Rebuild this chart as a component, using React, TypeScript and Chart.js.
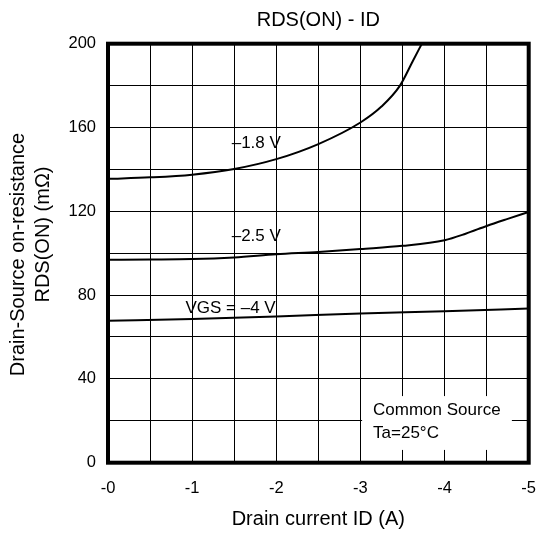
import { useEffect, useRef } from 'react';
import { Chart, registerables } from 'chart.js';

Chart.register(...registerables);

const FONT = "'Liberation Sans', Arial, Helvetica, sans-serif";

// tick labels
const xTicks = [0, -1, -2, -3, -4, -5];
const yTicks = [0, 40, 80, 120, 160, 200];

// VGS = -1.8 V
const id18 = [0, -0.5, -1, -1.5, -2, -2.5, -3, -3.25, -3.47, -3.62, -3.73];
const rds18 = [135.5, 136.2, 137.5, 140.2, 144.9, 152.1, 162.4, 170.0, 180.0, 191.5, 200];

// VGS = -2.5 V
const id25 = [0, -0.5, -1, -1.5, -2, -2.5, -3, -3.5, -4, -4.25, -4.5, -4.75, -5];
const rds25 = [96.9, 97.0, 97.2, 98.0, 99.5, 100.6, 102.0, 103.5, 106.2, 109.3, 113.0, 116.4, 119.7];

// VGS = -4 V
const id40 = [0, -1, -2, -3, -4, -5];
const rds40 = [67.8, 68.6, 69.8, 71.2, 72.3, 73.6];

// curve labels (data coordinates)
const curveLabels = ['\u20131.8 V', '\u20132.5 V', 'VGS = \u20134 V'];
const curveLabelX = [-1.47, -1.47, -0.92];
const curveLabelY = [152.5, 108, 73.7];

// note box
const noteLines = ['Common Source', 'Ta=25\u00B0C'];
const noteX = -3.15;
const noteY = [25.2, 14.0];
const noteBoxX = [-3.02, -4.8];
const noteBoxY = [31.8, 6.1];

const yTitleLines = ['Drain-Source on-resistance', 'RDS(ON) (m\u03A9)'];

const overlay = {
  id: 'overlay',
  beforeDatasetsDraw(chart: any) {
    const { ctx, scales } = chart;
    const x = scales.x;
    const y = scales.y;
    ctx.save();
    const bx0 = x.getPixelForValue(noteBoxX[0]);
    const bx1 = x.getPixelForValue(noteBoxX[1]);
    const by0 = y.getPixelForValue(noteBoxY[0]);
    const by1 = y.getPixelForValue(noteBoxY[1]);
    ctx.fillStyle = '#ffffff';
    ctx.fillRect(Math.min(bx0, bx1), Math.min(by0, by1), Math.abs(bx1 - bx0), Math.abs(by1 - by0));
    ctx.fillStyle = '#000000';
    ctx.font = `17px ${FONT}`;
    ctx.textAlign = 'left';
    ctx.textBaseline = 'middle';
    noteLines.forEach((t, i) => {
      ctx.fillText(t, x.getPixelForValue(noteX), y.getPixelForValue(noteY[i]));
    });
    curveLabels.forEach((t, i) => {
      ctx.fillText(t, x.getPixelForValue(curveLabelX[i]), y.getPixelForValue(curveLabelY[i]));
    });
    ctx.restore();
  },
  afterDraw(chart: any) {
    const { ctx, chartArea } = chart;
    ctx.save();
    ctx.strokeStyle = '#000000';
    ctx.lineWidth = 4;
    ctx.strokeRect(chartArea.left, chartArea.top, chartArea.right - chartArea.left, chartArea.bottom - chartArea.top);
    // y-axis title
    ctx.fillStyle = '#000000';
    ctx.font = `20px ${FONT}`;
    ctx.textAlign = 'center';
    ctx.textBaseline = 'middle';
    const cx = [18, 43];
    const cy = [254.5, 234.5];
    yTitleLines.forEach((t, i) => {
      ctx.save();
      ctx.translate(cx[i], cy[i]);
      ctx.rotate(-Math.PI / 2);
      ctx.fillText(t, 0, 0);
      ctx.restore();
    });
    ctx.restore();
  },
};

const toPoints = (xs: number[], ys: number[]) => xs.map((v, i) => ({ x: v, y: ys[i] }));

const lineStyle = {
  borderColor: '#000000',
  borderWidth: 2,
  pointRadius: 0,
  fill: false,
  cubicInterpolationMode: 'monotone' as const,
};

export default function App() {
  const ref = useRef<HTMLCanvasElement | null>(null);
  useEffect(() => {
    if (!ref.current) return;
    const chart = new Chart(ref.current, {
      type: 'line',
      data: {
        datasets: [
          { label: 'VGS = -1.8 V', data: toPoints(id18, rds18), ...lineStyle },
          { label: 'VGS = -2.5 V', data: toPoints(id25, rds25), ...lineStyle },
          { label: 'VGS = -4 V', data: toPoints(id40, rds40), ...lineStyle },
        ],
      },
      options: {
        responsive: false,
        animation: false,
        layout: { padding: { left: 0, right: 10.3, top: 0, bottom: 0 } },
        plugins: {
          legend: { display: false },
          tooltip: { enabled: false },
          title: {
            display: true,
            text: 'RDS(ON) - ID',
            color: '#000000',
            fullSize: false,
            font: { family: FONT, size: 20, weight: 'normal' },
            padding: { top: 8, bottom: 11.7 },
          },
        },
        scales: {
          x: {
            type: 'linear',
            min: -5,
            max: 0,
            reverse: true,
            border: { display: false },
            grid: { color: '#000000', lineWidth: 1, drawTicks: false },
            ticks: {
              stepSize: 0.5,
              autoSkip: false,
              maxRotation: 0,
              padding: 16,
              color: '#000000',
              font: { family: FONT, size: 16.5 },
              callback: (v: any) => {
                const t = xTicks.find((k) => Math.abs(k - Number(v)) < 1e-6);
                if (t === undefined) return '';
                return t === 0 ? '-0' : String(t);
              },
            },
            title: {
              display: true,
              text: 'Drain current ID (A)',
              color: '#000000',
              font: { family: FONT, size: 20 },
              padding: { top: 4, bottom: 4 },
            },
            afterFit: (s: any) => {
              s.height = 72.3;
              s.paddingLeft = 0;
              s.paddingRight = 0;
            },
          },
          y: {
            type: 'linear',
            min: 0,
            max: 200,
            border: { display: false },
            grid: { color: '#000000', lineWidth: 1, drawTicks: false },
            ticks: {
              stepSize: 20,
              autoSkip: false,
              padding: 12,
              color: '#000000',
              font: { family: FONT, size: 16.5 },
              callback: (v: any) => {
                const t = yTicks.find((k) => Math.abs(k - Number(v)) < 1e-6);
                return t === undefined ? '' : String(t);
              },
            },
            afterFit: (s: any) => {
              s.width = 108;
              s.paddingTop = 0;
              s.paddingBottom = 0;
            },
          },
        },
      },
      plugins: [overlay],
    });
    return () => chart.destroy();
  }, []);
  return (
    <div style={{ position: 'absolute', left: 0, top: 0, width: 539, height: 535, background: '#ffffff' }}>
      <canvas ref={ref} width={539} height={535} style={{ display: 'block' }} />
    </div>
  );
}
